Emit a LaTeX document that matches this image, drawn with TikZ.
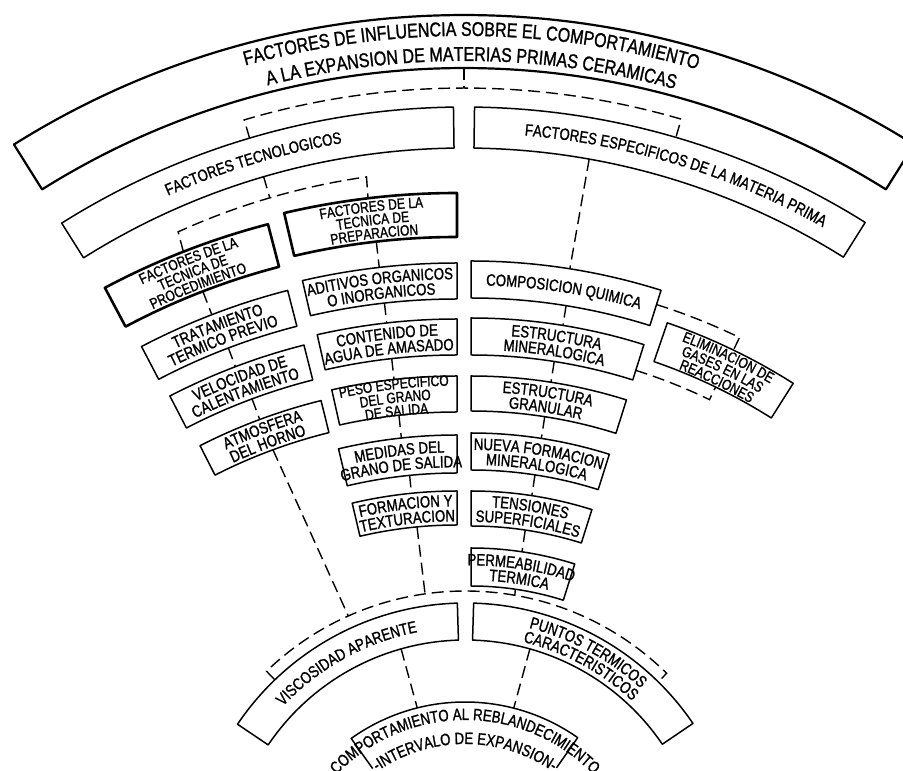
\documentclass[tikz,border=0pt]{standalone}
\usepackage{fontspec}
\newfontfamily\lfont[FakeStretch=0.8, FakeBold=1.2]{Liberation Sans}
\usetikzlibrary{calc}
\usetikzlibrary{decorations.text}
\tikzset{
  box/.style= {draw, line width=1.5pt, line join=round},
  thickbox/.style= {draw, line width=2.6pt, line join=round},
  banner/.style= {draw, line width=2.2pt, line join=round},
  link/.style= {line width=1.4pt, dash pattern=on 12pt off 6pt},
}
\newcommand{\bigf}{\lfont\fontsize{20}{24}\selectfont}
\newcommand{\boxf}{\lfont\fontsize{16.5}{20}\selectfont}
\newcommand{\smallf}{\lfont\fontsize{15}{18}\selectfont}
\newcommand{\sector}[6][box]{%
  \draw[#1] ($(#2)+(#5:#4)$) arc[start angle=#5, end angle=#6, radius=#4]
    -- ($(#2)+(#6:#3)$) arc[start angle=#6, end angle=#5, radius=#3] -- cycle;}
\newcommand{\arcline}[5][\boxf]{%
  \path[decorate, decoration={text along path, text align=center, text={|#1|#5}}]
    ($(#2)+({#4+60}:#3)$) arc[start angle={#4+60}, end angle={#4-60}, radius=#3];}

\begin{document}
\begin{tikzpicture}[x=1pt, y=1pt]
  \useasboundingbox (0,0) rectangle (903,771);
  \clip (0,0) rectangle (903,771);
  \coordinate (cmain) at (464,-91);
  \coordinate (ccol) at (457,-179);
  \coordinate (cright) at (471,-122);
  \coordinate (cfoot) at (465.5,-107);
  \coordinate (cend) at (465,-127);

  \sector[banner]{cmain}{794}{847}{122.1}{57.9}
  \arcline[\bigf]{cmain}{826}{89.5}{FACTORES DE INFLUENCIA SOBRE EL COMPORTAMIENTO}
  \arcline[\bigf]{cmain}{801}{89.5}{A LA EXPANSION DE MATERIAS PRIMAS CERAMICAS}

  \sector{cmain}{714}{755}{122.2}{90.8}
  \sector{cmain}{714}{755}{89.2}{57.9}
  \arcline{cmain}{729}{106.8}{FACTORES TECNOLOGICOS}
  \arcline{cmain}{729}{72.9}{FACTORES ESPECIFICOS DE LA MATERIA PRIMA}

  \sector[thickbox]{ccol}{706}{750}{118}{104.6}
  \arcline[\smallf]{ccol}{736.2}{111.3}{FACTORES DE LA}
  \arcline[\smallf]{ccol}{722.7}{111.3}{TECNICA DE}
  \arcline[\smallf]{ccol}{709.2}{111.3}{PROCEDIMIENTO}
  \sector{ccol}{644}{681}{117.6}{104.4}
  \arcline{ccol}{664.1}{111}{TRATAMIENTO}
  \arcline{ccol}{649.1}{111}{TERMICO PREVIO}
  \sector{ccol}{588}{624}{117.4}{104.2}
  \arcline{ccol}{607.6}{110.8}{VELOCIDAD DE}
  \arcline{ccol}{592.6}{110.8}{CALENTAMIENTO}
  \sector{ccol}{533}{566}{117}{103.9}
  \arcline{ccol}{551.1}{110.5}{ATMOSFERA}
  \arcline{ccol}{536.1}{110.5}{DEL HORNO}

  \sector[thickbox]{ccol}{713}{757}{103.2}{90}
  \arcline[\smallf]{ccol}{743.2}{96.6}{FACTORES DE LA}
  \arcline[\smallf]{ccol}{729.7}{96.6}{TECNICA DE}
  \arcline[\smallf]{ccol}{716.2}{96.6}{PREPARACION}
  \sector{ccol}{651}{687}{103}{90}
  \arcline{ccol}{670.6}{96.6}{ADITIVOS ORGANICOS}
  \arcline{ccol}{655.6}{96.6}{O INORGANICOS}
  \sector{ccol}{595}{631}{102.8}{90}
  \arcline{ccol}{614.6}{96.5}{CONTENIDO DE}
  \arcline{ccol}{599.6}{96.5}{AGUA DE AMASADO}
  \sector{ccol}{538}{574}{102.6}{90}
  \arcline[\smallf]{ccol}{564.2}{96.4}{PESO ESPECIFICO}
  \arcline[\smallf]{ccol}{550.7}{96.4}{DEL GRANO}
  \arcline[\smallf]{ccol}{537.2}{96.4}{DE SALIDA}
  \sector{ccol}{477}{515}{103.3}{90}
  \arcline{ccol}{497.6}{96.6}{MEDIDAS DEL}
  \arcline{ccol}{482.6}{96.6}{GRANO DE SALIDA}
  \sector{ccol}{425}{459}{103.2}{90}
  \arcline{ccol}{443.6}{96.6}{FORMACION Y}
  \arcline{ccol}{428.6}{96.6}{TEXTURACION}

  \sector{cright}{595}{632}{90}{72.5}
  \arcline{cright}{607.6}{81.25}{COMPOSICION QUIMICA}
  \sector{cright}{538}{575}{90}{72.5}
  \arcline{cright}{558.1}{81.25}{ESTRUCTURA}
  \arcline{cright}{543.1}{81.25}{MINERALOGICA}
  \sector{cright}{482}{517}{90}{72.5}
  \arcline{cright}{501.1}{81.25}{ESTRUCTURA}
  \arcline{cright}{486.1}{81.25}{GRANULAR}
  \sector{cright}{423}{460}{90}{72.5}
  \arcline{cright}{443.1}{81.25}{NUEVA FORMACION}
  \arcline{cright}{428.1}{81.25}{MINERALOGICA}
  \sector{cright}{367}{402}{90}{72.5}
  \arcline{cright}{386.1}{81.25}{TENSIONES}
  \arcline{cright}{371.1}{81.25}{SUPERFICIALES}
  \sector{cright}{307}{345}{90}{72.5}
  \arcline{cright}{327.6}{81.25}{PERMEABILIDAD}
  \arcline{cright}{312.6}{81.25}{TERMICA}

  \sector{cright}{562}{603}{71}{57.7}
  \arcline[\smallf]{cright}{590.7}{64.35}{ELIMINACION DE}
  \arcline[\smallf]{cright}{577.2}{64.35}{GASES EN LAS}
  \arcline[\smallf]{cright}{563.7}{64.35}{REACCIONES}

  \sector{cfoot}{238}{275}{146}{91.7}
  \arcline{cfoot}{250.5}{118.9}{VISCOSIDAD APARENTE}
  \sector{cfoot}{238}{275}{88.3}{34.2}
  \arcline{cfoot}{258}{61.5}{PUNTOS TERMICOS}
  \arcline{cfoot}{243}{61.5}{CARACTERISTICOS}

  \draw[box] ($(cend)+(125.5:159)$) -- ($(cend)+(125.5:196)$)
    arc[start angle=125.5, end angle=54.9, radius=196] -- ($(cend)+(54.9:159)$);
  \arcline{cend}{178}{90}{COMPORTAMIENTO AL REBLANDECIMIENTO}
  \arcline{cend}{154}{90}{-INTERVALO DE EXPANSION-}

  \coordinate (ban-s) at ($(cmain)+(90:794)$);
  \coordinate (ban-j) at ($(cmain)+(90:774)$);
  \coordinate (tec-n) at ($(cmain)+(106.5:755)$);
  \coordinate (esp-n) at ($(cmain)+(73.7:755)$);
  \draw[link] (ban-s) -- (ban-j);
  \draw[link] (tec-n) -- ++(106.5:19) arc[start angle=106.5, end angle=73.7, radius=774] -- (esp-n);

  \coordinate (tec-s) at ($(cmain)+(106.3:714)$);
  \coordinate (tec-j) at ($(cmain)+(106.3:692)$);
  \coordinate (proc-n) at ($(ccol)+(111.4:750)$);
  \coordinate (prep-n) at ($(ccol)+(96.75:757)$);
  \draw[link] (tec-s) -- (tec-j);
  \draw[link] (proc-n) -- ($(cmain)+(114.4:692)$) arc[start angle=114.4, end angle=98.1, radius=692] -- (prep-n);

  \foreach \a/\ra/\rb [count=\i] in {111.1/706/681, 110.8/644/624, 110.4/588/566,
      96.5/713/687, 96.4/651/631, 96.3/595/574, 96.2/538/515, 95.7/477/459} {
    \coordinate (u\i) at ($(ccol)+(\a:\ra)$);
    \coordinate (v\i) at ($(ccol)+(\a:\rb)$);
    \draw[link] (u\i) -- (v\i);
  }
  \foreach \a/\ra/\rb [count=\i] in {80.8/595/575, 81.1/538/517, 81.2/482/460,
      81.3/423/402, 81.5/367/345} {
    \coordinate (p\i) at ($(cright)+(\a:\ra)$);
    \coordinate (q\i) at ($(cright)+(\a:\rb)$);
    \draw[link] (p\i) -- (q\i);
  }

  \coordinate (esp-s) at ($(cmain)+(79.9:714)$);
  \coordinate (com-n) at ($(cright)+(81:632)$);
  \draw[link] (esp-s) -- (com-n);

  \coordinate (com-e) at ($(cright)+(72.5:617)$);
  \coordinate (eli-n) at ($(cright)+(64.2:603)$);
  \coordinate (min-e) at ($(cright)+(72.5:548)$);
  \coordinate (eli-s) at ($(cright)+(64.2:562)$);
  \draw[link] (com-e) arc[start angle=72.5, end angle=64.2, radius=617] -- (eli-n);
  \draw[link] (min-e) arc[start angle=72.5, end angle=64.2, radius=548] -- (eli-s);

  \coordinate (vis-n) at ($(cfoot)+(133.9:275)$);
  \coordinate (pun-n) at ($(cfoot)+(45.5:275)$);
  \draw[link] (vis-n) -- ++(133.9:12) arc[start angle=133.9, end angle=45.5, radius=287] -- (pun-n);
  \coordinate (atm-s) at ($(ccol)+(110.2:533)$);
  \coordinate (atm-j) at ($(cfoot)+(114.1:287)$);
  \coordinate (for-s) at ($(ccol)+(95.4:425)$);
  \coordinate (for-j) at ($(cfoot)+(98.1:287)$);
  \coordinate (per-s) at ($(cright)+(81.7:307)$);
  \coordinate (per-j) at ($(cfoot)+(80.1:287)$);
  \draw[link] (atm-s) -- (atm-j);
  \draw[link] (for-s) -- (for-j);
  \draw[link] (per-s) -- (per-j);

  \coordinate (vis-s) at ($(cfoot)+(105.7:238)$);
  \coordinate (reb-w) at ($(cend)+(104.1:196)$);
  \coordinate (pun-s) at ($(cfoot)+(74.3:238)$);
  \coordinate (reb-e) at ($(cend)+(75.6:196)$);
  \draw[link] (vis-s) -- (reb-w);
  \draw[link] (pun-s) -- (reb-e);
\end{tikzpicture}
\end{document}
